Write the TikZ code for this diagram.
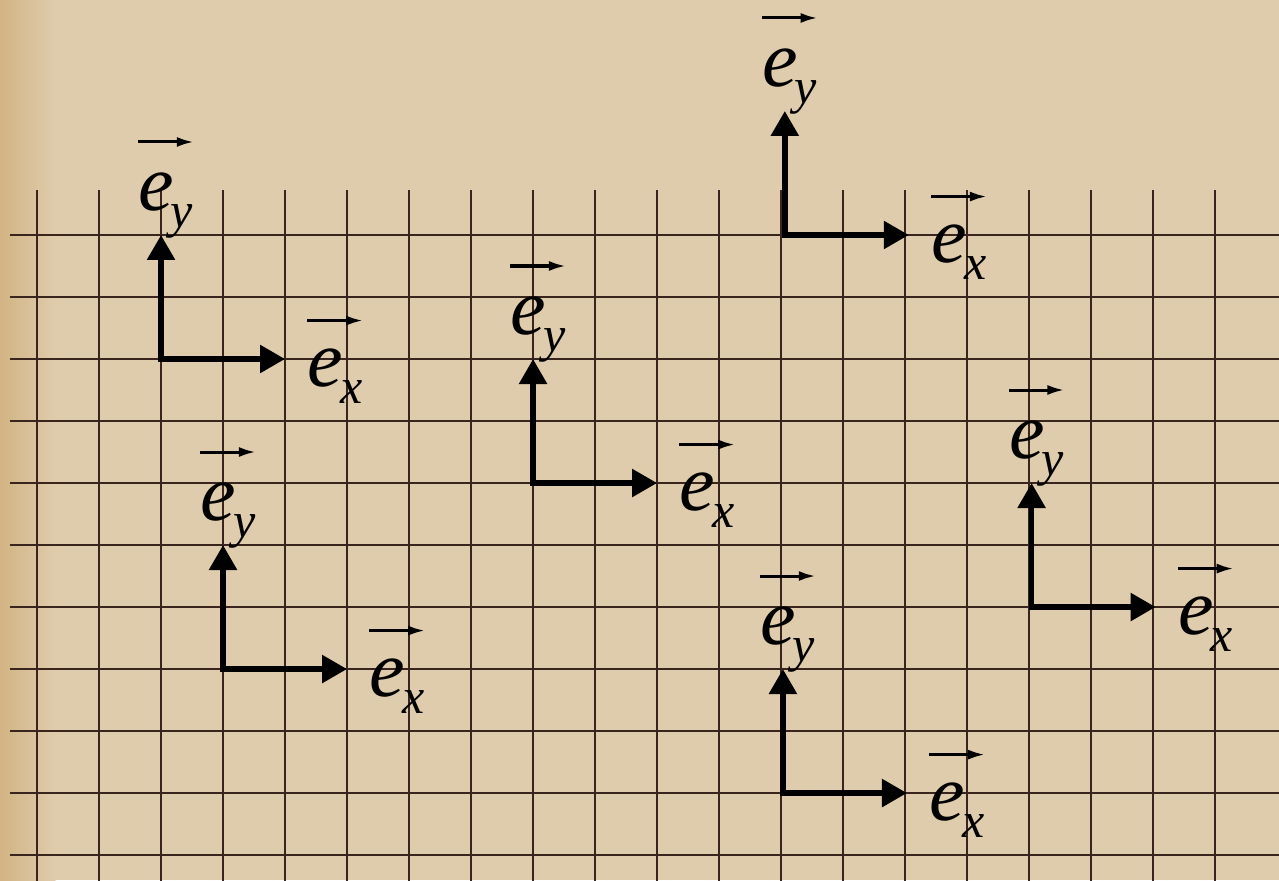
\documentclass[tikz,border=0pt]{standalone}
\usepackage{fontspec}
\newfontfamily\efont{Liberation Serif}[UprightFont={* Italic}]
\usetikzlibrary{arrows.meta}

\definecolor{paper}{RGB}{223,204,172}
\definecolor{paperdark}{RGB}{210,180,132}
\definecolor{gridbrown}{RGB}{58,36,30}

% Basisvektor: e mit Index
\newcommand{\ecomp}[1]{{\efont\fontsize{40}{40}\selectfont e}\kern-1.5pt\raisebox{-8.5pt}{\efont\fontsize{25}{25}\selectfont #1}}

\begin{document}
\begin{tikzpicture}[x=31pt, y=31pt,
  gridline/.style={gridbrown, line width=1pt},
  axis/.style={line width=2.8pt, line join=miter,
    {Triangle[length=12.5pt,width=13.5pt]}-{Triangle[length=12.5pt,width=13.5pt]}},
  vecarrow/.style={line width=1.5pt, -{Latex[length=8.5pt,width=5pt]}},
  elabel/.style={anchor=base west, inner sep=0pt}]

% Hintergrund
\fill[paper] (-0.597,-0.403) rectangle (20.03,13.79);
\shade[left color=paperdark, right color=paper] (-0.597,-0.403) rectangle (0.3,13.79);
\useasboundingbox (-0.597,-0.403) rectangle (20.03,13.79);

% Gitter
\foreach \i in {0,...,19}
  \draw[gridline] (\i,-0.5) -- (\i,10.73);
\foreach \j in {0,...,10}
  \draw[gridline] (-0.435,\j) -- (20.1,\j);

% Basis 1
\coordinate (o1) at (2,8);
\coordinate (x1) at (4,8);
\coordinate (y1) at (2,10);
\draw[axis] (x1) -- (o1) -- (y1);
\node[elabel] (ex1) at (4.36,7.55) {\ecomp{x}};
\node[elabel] (ey1) at (1.63,10.4) {\ecomp{y}};
\draw[vecarrow] ([shift={(0,1.07)}]ex1.base west) -- ++(0.9,0);
\draw[vecarrow] ([shift={(0,1.1)}]ey1.base west) -- ++(0.9,0);

% Basis 2
\coordinate (o2) at (3,3);
\coordinate (x2) at (5,3);
\coordinate (y2) at (3,5);
\draw[axis] (x2) -- (o2) -- (y2);
\node[elabel] (ex2) at (5.36,2.55) {\ecomp{x}};
\node[elabel] (ey2) at (2.63,5.4) {\ecomp{y}};
\draw[vecarrow] ([shift={(0,1.07)}]ex2.base west) -- ++(0.9,0);
\draw[vecarrow] ([shift={(0,1.1)}]ey2.base west) -- ++(0.9,0);

% Basis 3
\coordinate (o3) at (8,6);
\coordinate (x3) at (10,6);
\coordinate (y3) at (8,8);
\draw[axis] (x3) -- (o3) -- (y3);
\node[elabel] (ex3) at (10.36,5.55) {\ecomp{x}};
\node[elabel] (ey3) at (7.63,8.4) {\ecomp{y}};
\draw[vecarrow] ([shift={(0,1.07)}]ex3.base west) -- ++(0.9,0);
\draw[vecarrow] ([shift={(0,1.1)}]ey3.base west) -- ++(0.9,0);

% Basis 4
\coordinate (o4) at (12.06,10);
\coordinate (x4) at (14.06,10);
\coordinate (y4) at (12.06,12);
\draw[axis] (x4) -- (o4) -- (y4);
\node[elabel] (ex4) at (14.42,9.55) {\ecomp{x}};
\node[elabel] (ey4) at (11.69,12.4) {\ecomp{y}};
\draw[vecarrow] ([shift={(0,1.07)}]ex4.base west) -- ++(0.9,0);
\draw[vecarrow] ([shift={(0,1.1)}]ey4.base west) -- ++(0.9,0);

% Basis 5
\coordinate (o5) at (12.03,1);
\coordinate (x5) at (14.03,1);
\coordinate (y5) at (12.03,3);
\draw[axis] (x5) -- (o5) -- (y5);
\node[elabel] (ex5) at (14.39,0.55) {\ecomp{x}};
\node[elabel] (ey5) at (11.66,3.4) {\ecomp{y}};
\draw[vecarrow] ([shift={(0,1.07)}]ex5.base west) -- ++(0.9,0);
\draw[vecarrow] ([shift={(0,1.1)}]ey5.base west) -- ++(0.9,0);

% Basis 6
\coordinate (o6) at (16.04,4);
\coordinate (x6) at (18.04,4);
\coordinate (y6) at (16.04,6);
\draw[axis] (x6) -- (o6) -- (y6);
\node[elabel] (ex6) at (18.40,3.55) {\ecomp{x}};
\node[elabel] (ey6) at (15.67,6.4) {\ecomp{y}};
\draw[vecarrow] ([shift={(0,1.07)}]ex6.base west) -- ++(0.9,0);
\draw[vecarrow] ([shift={(0,1.1)}]ey6.base west) -- ++(0.9,0);

\end{tikzpicture}
\end{document}
